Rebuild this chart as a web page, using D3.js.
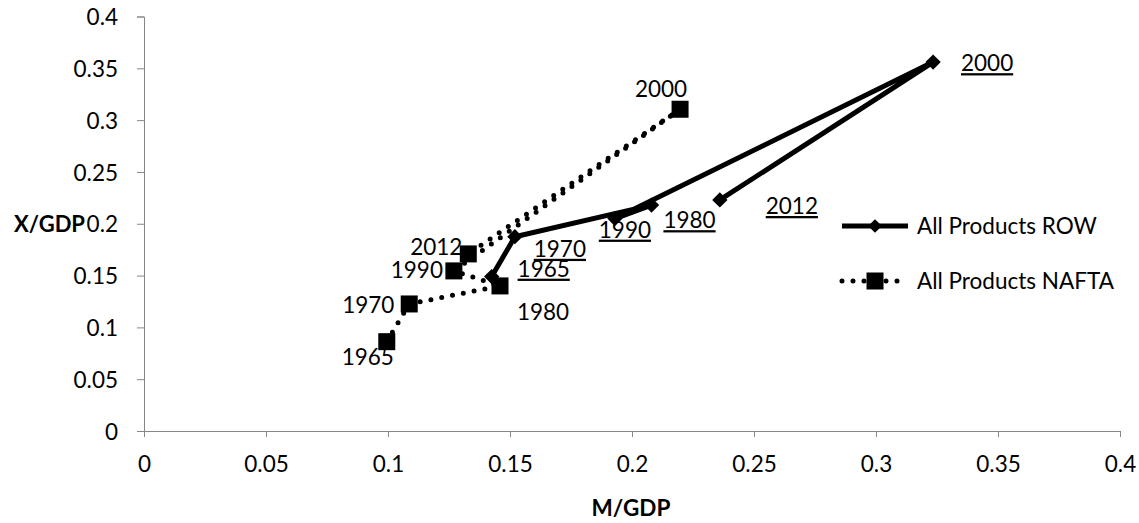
<!DOCTYPE html>
<html><head><meta charset="utf-8">
<script src="https://cdn.jsdelivr.net/npm/d3@7"></script>
<style>body{margin:0;background:#fff}svg{display:block}text{font-family:Lato,"Open Sans",sans-serif;fill:#000}</style>
</head><body><svg id="c" width="1139" height="523"></svg>
<script>
const years = ["1965","1970","1980","1990","2000","2012"];
const rowMGDP = [0.1425, 0.152, 0.208, 0.193, 0.3234, 0.236];
const rowXGDP = [0.149, 0.1875, 0.218, 0.205, 0.356, 0.223];
const naftaMGDP = [0.0995, 0.1087, 0.1459, 0.127, 0.2197, 0.1329];
const naftaXGDP = [0.0862, 0.1226, 0.140, 0.1545, 0.3105, 0.1709];
const xTicks = [0,0.05,0.1,0.15,0.2,0.25,0.3,0.35,0.4];
const yTicks = [0,0.05,0.1,0.15,0.2,0.25,0.3,0.35,0.4];
const seriesNames = ["All Products ROW","All Products NAFTA"];

const svg = d3.select("#c");
const x = d3.scaleLinear().domain([0,0.4]).range([144,1120]);
const y = d3.scaleLinear().domain([0,0.4]).range([431,16.5]);
const FS = 22.5;
const grey = "#868686";

// axes
const xAx = svg.append("g").attr("transform","translate(0,431)")
  .call(d3.axisBottom(x).tickValues(xTicks).tickFormat(d=>String(d)).tickSize(6).tickPadding(19));
const yAx = svg.append("g").attr("transform","translate(144,0)")
  .call(d3.axisLeft(y).tickValues(yTicks).tickFormat(d=>String(d)).tickSize(7).tickPadding(19));
[xAx,yAx].forEach(a=>{
  a.selectAll("path").attr("stroke",grey).attr("stroke-width",1);
  a.selectAll("line").attr("stroke",grey).attr("stroke-width",1);
  a.selectAll("text").attr("font-size",FS).attr("font-family","Lato").attr("fill","#000");
});
yAx.selectAll("text").attr("dy","0.36em");
xAx.selectAll("text").attr("dy","0.7em");

svg.append("text").attr("x",631).attr("y",516).attr("text-anchor","middle")
  .attr("font-size",FS).attr("font-weight","bold").text("M/GDP");
svg.append("text").attr("x",85).attr("y",224).attr("dy","0.36em").attr("text-anchor","end")
  .attr("font-size",22).attr("font-weight","bold").text("X/GDP");

const row = years.map((yr,i)=>({yr, mx:rowMGDP[i], xy:rowXGDP[i]}));
const nafta = years.map((yr,i)=>({yr, mx:naftaMGDP[i], xy:naftaXGDP[i]}));
const line = d3.line().x(d=>x(d.mx)).y(d=>y(d.xy));

// NAFTA dotted
svg.append("path").datum(nafta).attr("d",line).attr("fill","none").attr("stroke","#000")
  .attr("stroke-width",5).attr("stroke-linecap","round").attr("stroke-dasharray","0 11");
// ROW solid
svg.append("path").datum(row).attr("d",line).attr("fill","none").attr("stroke","#000")
  .attr("stroke-width",5).attr("stroke-linejoin","round");

const diamond = d3.symbol().type(d3.symbolDiamond2).size(150);
svg.selectAll(".dm").data(row).enter().append("path")
  .attr("d",diamond).attr("transform",d=>`translate(${x(d.mx)},${y(d.xy)})`).attr("fill","#000");
svg.selectAll(".sq").data(nafta).enter().append("rect")
  .attr("x",d=>x(d.mx)-8.5).attr("y",d=>y(d.xy)-8.5).attr("width",17).attr("height",17).attr("fill","#000");

// data labels (manually moved in the original)
const naftaOff = {"1965":[-19,15],"1970":[-41,1],"1980":[43,26],"1990":[-37,-1],"2000":[-19,-20],"2012":[-32,-7]};
const rowOff = {"1965":[52,-8],"1970":[45,12],"1990":[10,11],"1980":[38,15],"2000":[54,1],"2012":[72,6]};
svg.selectAll(".nl").data(nafta).enter().append("text")
  .attr("x",d=>x(d.mx)+naftaOff[d.yr][0]).attr("y",d=>y(d.xy)+naftaOff[d.yr][1])
  .attr("dy","0.36em").attr("text-anchor","middle").attr("font-size",FS).text(d=>d.yr);
svg.selectAll(".rl").data(row).enter().append("text")
  .attr("x",d=>x(d.mx)+rowOff[d.yr][0]).attr("y",d=>y(d.xy)+rowOff[d.yr][1])
  .attr("dy","0.36em").attr("text-anchor","middle").attr("font-size",FS)
  .attr("text-decoration","underline").text(d=>d.yr);

// legend
const lg = svg.append("g");
lg.append("line").attr("x1",842).attr("x2",908).attr("y1",226).attr("y2",226).attr("stroke","#000").attr("stroke-width",5);
lg.append("path").attr("d",d3.symbol().type(d3.symbolDiamond2).size(120)).attr("transform","translate(875,226)").attr("fill","#000");
lg.append("text").attr("x",917).attr("y",226).attr("dy","0.36em").attr("font-size",FS).text(seriesNames[0]);
lg.append("line").attr("x1",842).attr("x2",908).attr("y1",281).attr("y2",281).attr("stroke","#000")
  .attr("stroke-width",5).attr("stroke-linecap","round").attr("stroke-dasharray","0 11");
lg.append("rect").attr("x",866.5).attr("y",272.5).attr("width",17).attr("height",17).attr("fill","#000");
lg.append("text").attr("x",917).attr("y",281).attr("dy","0.36em").attr("font-size",FS).text(seriesNames[1]);
</script></body></html>
